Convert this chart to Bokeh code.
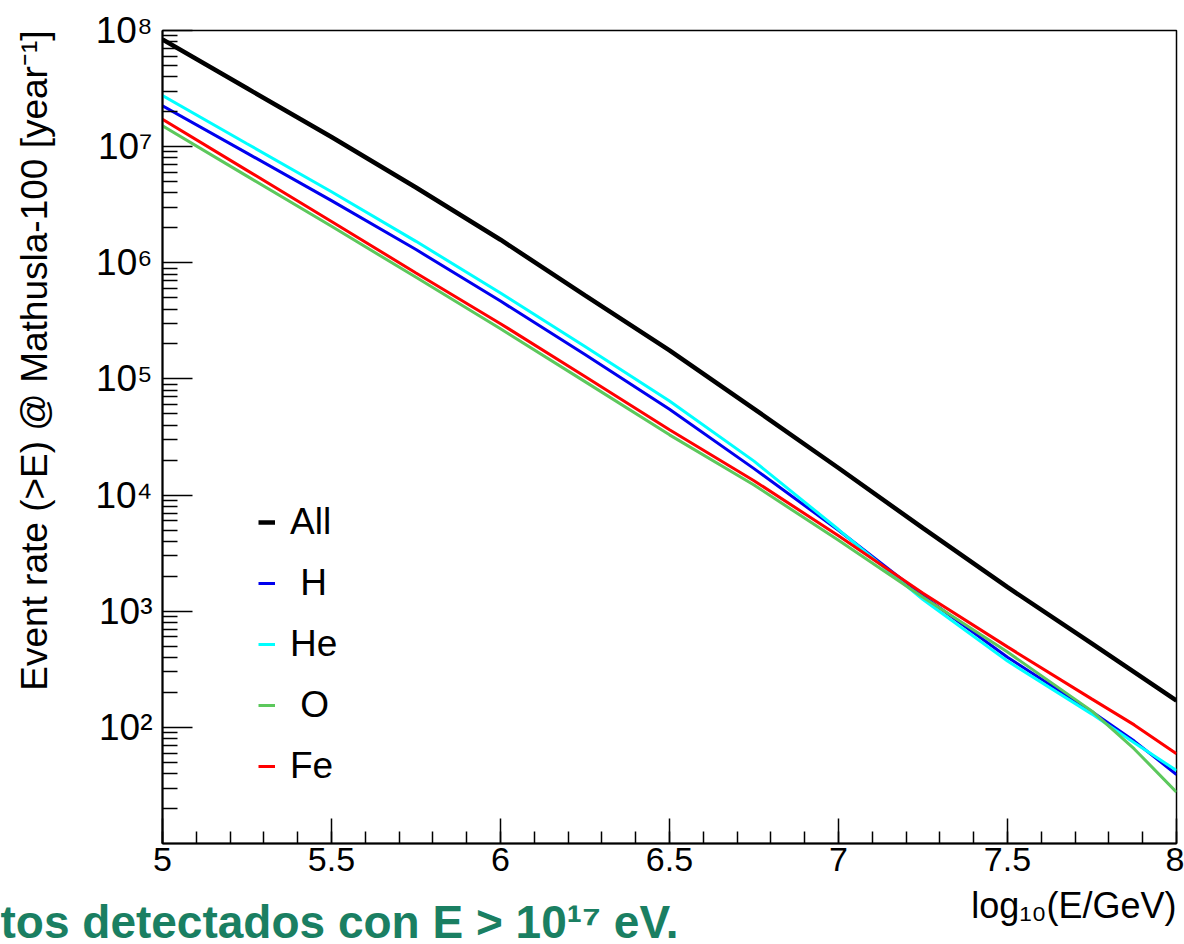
import math
from bokeh.plotting import figure
from bokeh.layouts import column
from bokeh.models import FixedTicker, Label, Legend, LegendItem
from bokeh.embed import file_html
from bokeh.resources import INLINE

# ---- data ----
log10E = [5.0, 5.25, 5.5, 5.75, 6.0, 6.25, 6.5, 6.75, 7.0, 7.25, 7.5, 7.75, 7.875, 8.0]
rate_all = [8.36e7, 3.18e7, 1.21e7, 4.45e6, 1.58e6, 5.25e5, 1.76e5, 5.53e4, 1.71e4, 5.19e3, 1.61e3, 525, 299, 170]
rate_H = [2.25e7, 8.79e6, 3.43e6, 1.30e6, 4.68e5, 1.62e5, 5.48e4, 1.69e4, 4.98e3, 1.36e3, 401, 136, 76.2, 39.3]
rate_He = [2.76e7, 1.06e7, 4.09e6, 1.53e6, 5.50e5, 1.90e5, 6.46e4, 1.96e4, 5.05e3, 1.26e3, 372, 130, 73.8, 42.5]
rate_O = [1.51e7, 5.57e6, 2.06e6, 7.50e5, 2.70e5, 9.48e4, 3.30e4, 1.22e4, 4.08e3, 1.32e3, 445, 138, 65.2, 27.7]
rate_Fe = [1.72e7, 6.25e6, 2.27e6, 8.17e5, 2.99e5, 1.05e5, 3.65e4, 1.33e4, 4.47e3, 1.43e3, 493, 175, 105, 59.2]

series_names = ["All", " H", "He", " O", "Fe"]
series_colors = ["#000000", "#0000ee", "#00ffff", "#5cc85c", "#ff0000"]
series_widths = [4.5, 3, 3, 3, 3]

x_ticks = [5, 5.5, 6, 6.5, 7, 7.5, 8]
x_tick_labels = ["5", "5.5", "6", "6.5", "7", "7.5", "8"]
y_ticks = [1e2, 1e3, 1e4, 1e5, 1e6, 1e7, 1e8]
y_tick_labels = ["10²", "10³", "10⁴", "10⁵", "10⁶", "10⁷", "10⁸"]

x_title = "log₁₀(E/GeV)"
y_title = "Event rate (>E) @ Mathusla-100 [year⁻¹]"
caption = "tos detectados con E > 10¹⁷ eV."

FONT = "Liberation Sans"
W = 1184
MAIN_H = 890
FOOT_H = 944 - MAIN_H
FOOT_SHIFT = 13  # measured offset of the footer frame inside the column


def no_frame_align(fig):
    if "frame_align" in fig.properties():
        fig.frame_align = False


p = figure(width=W, height=MAIN_H, y_axis_type="log",
           x_range=(5, 8), y_range=(10, 1e8),
           output_backend="svg", toolbar_location=None,
           min_border_left=162, min_border_right=8,
           min_border_top=30, min_border_bottom=47)
no_frame_align(p)
p.title.visible = False
p.xgrid.visible = False
p.ygrid.visible = False
p.outline_line_color = "black"
p.outline_line_width = 1.5
p.background_fill_color = "white"
p.border_fill_color = "white"

# axes
xa = p.xaxis[0]
xa.ticker = FixedTicker(ticks=x_ticks,
                        minor_ticks=[round(5 + 0.1 * i, 1) for i in range(31)])
xa.major_label_overrides = {t: l for t, l in zip(x_ticks, x_tick_labels)}
xa.major_tick_in = 25
xa.major_tick_out = 0
xa.minor_tick_in = 12
xa.minor_tick_out = 0
xa.axis_line_width = 2
xa.major_tick_line_width = 1.5
xa.minor_tick_line_width = 1.5
xa.major_label_text_font = FONT
xa.major_label_text_font_size = "34px"
xa.major_label_text_color = "black"
xa.major_label_standoff = 4

ya = p.yaxis[0]
ya.ticker = FixedTicker(ticks=y_ticks,
                        minor_ticks=[k * 10 ** n for n in range(1, 8) for k in range(2, 10)])
ya.major_label_overrides = {t: l for t, l in zip(y_ticks, y_tick_labels)}
ya.major_tick_in = 30
ya.major_tick_out = 0
ya.minor_tick_in = 15
ya.minor_tick_out = 0
ya.axis_line_width = 2
ya.major_tick_line_width = 1.5
ya.minor_tick_line_width = 1.5
ya.major_label_text_font = FONT
ya.major_label_text_font_size = "37px"
ya.major_label_text_color = "black"
ya.major_label_standoff = 10

# curves
all_rates = [rate_all, rate_H, rate_He, rate_O, rate_Fe]
renderers = []
for rates, col, w in zip(all_rates, series_colors, series_widths):
    r = p.line(log10E, rates, line_color=col, line_width=w)
    renderers.append(r)

legend = Legend(items=[LegendItem(label=n, renderers=[r]) for n, r in zip(series_names, renderers)],
                location=(96, 55), padding=0, margin=0,
                border_line_alpha=0, background_fill_alpha=0,
                glyph_width=17, glyph_height=44, label_height=44,
                label_standoff=15, spacing=17,
                label_text_font=FONT, label_text_font_size="37px",
                label_text_color="black",
                label_text_baseline="middle")
p.add_layout(legend)

# y title: ROOT style, aligned to the top of the frame (left side panel => not clipped)
p.add_layout(Label(x=5 + (34 - 162) / 338.0, y=1e8, text=y_title, angle=math.pi / 2,
                   text_align="right", text_baseline="alphabetic",
                   text_font=FONT, text_font_size="37px", text_color="black"), "left")

# footer strip holding the x title and the slide caption fragment
f = figure(width=W, height=FOOT_H, x_range=(0, W), y_range=(0, FOOT_H),
           output_backend="svg", toolbar_location=None,
           x_axis_location=None, y_axis_location=None,
           min_border_left=0, min_border_right=0, min_border_top=0, min_border_bottom=0)
no_frame_align(f)
f.title.visible = False
f.outline_line_color = None
f.grid.visible = False
f.background_fill_color = "white"
f.border_fill_color = "white"

f.add_layout(Label(x=1176, y=944 - 918 + FOOT_SHIFT, text=x_title,
                   text_align="right", text_baseline="alphabetic",
                   text_font=FONT, text_font_size="36px", text_color="black"))
f.add_layout(Label(x=0, y=944 - 934 + FOOT_SHIFT, text=caption,
                   text_align="left", text_baseline="alphabetic",
                   text_font=FONT, text_font_style="bold",
                   text_font_size="46px", text_color="#1a7f62"))

layout = column(p, f, spacing=0)
open("out.html", "w").write(file_html(layout, INLINE))
